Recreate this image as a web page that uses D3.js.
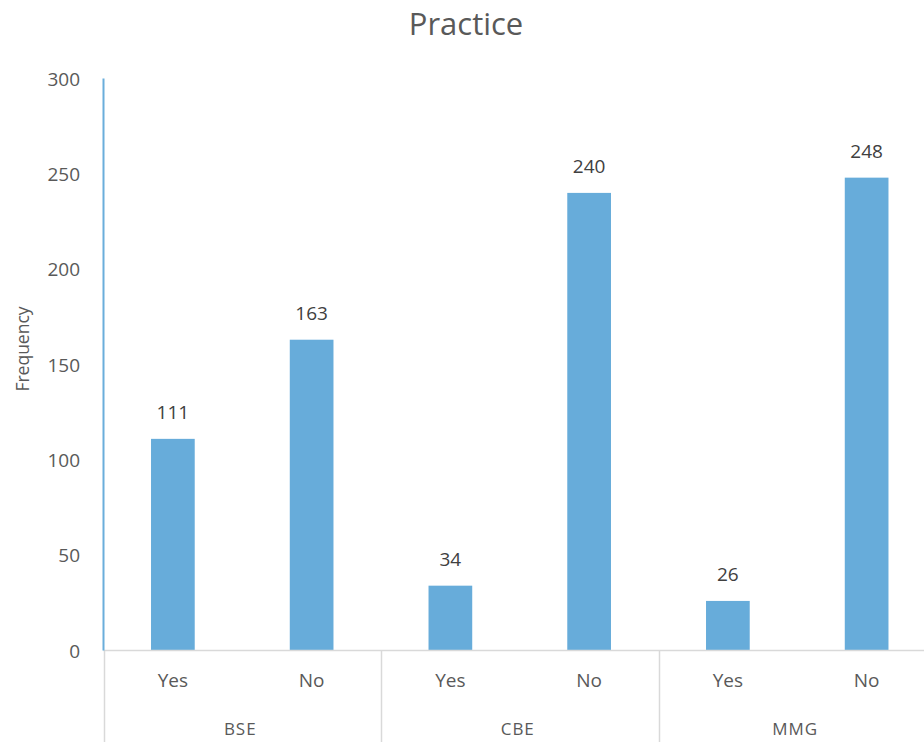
<!DOCTYPE html>
<html><head><meta charset="utf-8">
<script src="https://cdn.jsdelivr.net/npm/d3@7"></script>
<style>body{margin:0;background:#fff;} text{font-family:"Open Sans","Noto Sans",sans-serif;}</style>
</head><body><svg id="c" width="924" height="742"></svg>
<script>
const groups = ["BSE","CBE","MMG"];
const answers = ["Yes","No"];
const values = [111,163,34,240,26,248];
const yTicks = [0,50,100,150,200,250,300];
const title = "Practice";
const yLabel = "Frequency";

const svg = d3.select("#c");
const pL = 103.5, pR = 936, pT = 78.5, pB = 650.5;
const items = [];
groups.forEach((g,i)=>answers.forEach((a,j)=>items.push({g,a,v:values[i*2+j],k:g+"|"+a})));

const x = d3.scaleBand().domain(items.map(d=>d.k)).range([pL,pR]).paddingInner(0.685).paddingOuter(0.3425);
const xg = d3.scaleBand().domain(groups).range([pL,pR]);
const y = d3.scaleLinear().domain([0,300]).range([pB,pT]);

svg.append("text").attr("x",466).attr("y",35).attr("text-anchor","middle")
  .attr("font-size",31).attr("fill","#595959").text(title);

svg.append("g").selectAll("text").data(yTicks).join("text")
  .attr("x",80).attr("y",d=>y(d)+7).attr("text-anchor","end")
  .attr("font-size",19).attr("fill","#595959").text(d=>d);

svg.append("text").attr("transform",`translate(29,349) rotate(-90)`)
  .attr("text-anchor","middle").attr("font-size",17.5).attr("fill","#595959").text(yLabel);

svg.append("g").selectAll("rect").data(items).join("rect")
  .attr("x",d=>x(d.k)).attr("width",x.bandwidth())
  .attr("y",d=>y(d.v)).attr("height",d=>y(0)-y(d.v))
  .attr("fill","#67acda");

svg.append("g").selectAll("text").data(items).join("text")
  .attr("x",d=>x(d.k)+x.bandwidth()/2).attr("y",d=>y(d.v)-20)
  .attr("text-anchor","middle").attr("font-size",19).attr("fill","#404040").text(d=>d.v);

svg.append("line").attr("x1",pL).attr("x2",924).attr("y1",pB).attr("y2",pB)
  .attr("stroke","#d9d9d9").attr("stroke-width",1.5);
svg.append("g").selectAll("line").data(groups).join("line")
  .attr("x1",d=>Math.round(xg(d))+0.5).attr("x2",d=>Math.round(xg(d))+0.5)
  .attr("y1",pB).attr("y2",742).attr("stroke","#d9d9d9").attr("stroke-width",1.5);

svg.append("line").attr("x1",pL).attr("x2",pL).attr("y1",pT).attr("y2",pB)
  .attr("stroke","#6aaedb").attr("stroke-width",2);

svg.append("g").selectAll("text").data(items).join("text")
  .attr("x",d=>x(d.k)+x.bandwidth()/2).attr("y",687)
  .attr("text-anchor","middle").attr("font-size",19).attr("fill","#595959").text(d=>d.a);
svg.append("g").selectAll("text").data(groups).join("text")
  .attr("x",d=>xg(d)+xg.bandwidth()/2-2).attr("y",735)
  .attr("text-anchor","middle").attr("font-size",17).attr("letter-spacing",1).attr("fill","#595959").text(d=>d);
</script></body></html>
